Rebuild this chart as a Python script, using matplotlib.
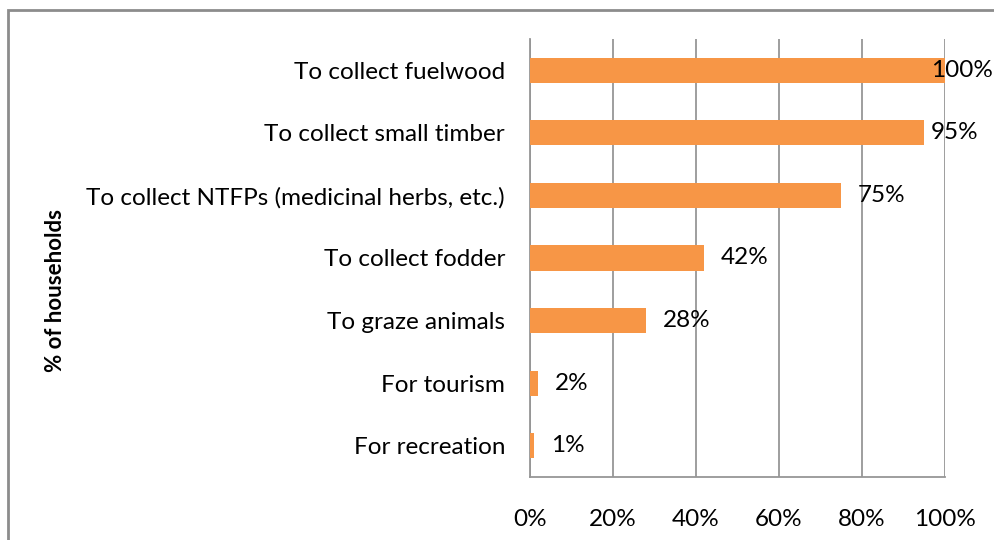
import matplotlib
matplotlib.use('Agg')
import matplotlib.pyplot as plt
from matplotlib.patches import Rectangle

categories = ["To collect fuelwood", "To collect small timber",
              "To collect NTFPs (medicinal herbs, etc.)", "To collect fodder",
              "To graze animals", "For tourism", "For recreation"]
values = [100, 95, 75, 42, 28, 2, 1]
ticks = [0, 20, 40, 60, 80, 100]

plt.rcParams['font.family'] = ['Lato', 'DejaVu Sans']
fs = 17.5

fig = plt.figure(figsize=(9.94, 5.4), dpi=100)
ax = fig.add_axes([530/994, 63/540, 415/994, 438/540])

# outer chart border (cut off on right and bottom)
fig.patches.append(Rectangle((8/994, -0.1), 1.2, 1.1 - 10/540,
                             transform=fig.transFigure, fill=False,
                             edgecolor="#8c8c8c", linewidth=2))

ypos = list(range(len(categories)))[::-1]
ax.barh(ypos, values, height=0.4, color="#F79646", zorder=3)

# labels just past the bar end, kept inside the picture
for y, v in zip(ypos, values):
    ax.text(min(v + 4.0, 96.6), y, f"{v}%", va="center", ha="left",
            fontsize=fs, color="black", zorder=4)

ax.set_xlim(0, 100)
ax.set_ylim(-0.5, 6.5)
ax.set_xticks(ticks)
ax.set_xticklabels([f"{t}%" for t in ticks], fontsize=fs)
ax.set_yticks(ypos)
ax.set_yticklabels(categories, fontsize=fs)
ax.tick_params(axis='x', length=0, pad=23)
ax.tick_params(axis='y', length=0, pad=18)

ax.grid(axis='x', color="#969696", linewidth=1.3, zorder=0)
for s in ["top", "right"]:
    ax.spines[s].set_visible(False)
for s in ["left", "bottom"]:
    ax.spines[s].set_color("#969696")
    ax.spines[s].set_linewidth(1.3)

fig.text(56/994, 1 - 290/540, "% of households", rotation=90, fontsize=16,
         fontweight="bold", ha="center", va="center")

fig.savefig("out.png", dpi=100)
